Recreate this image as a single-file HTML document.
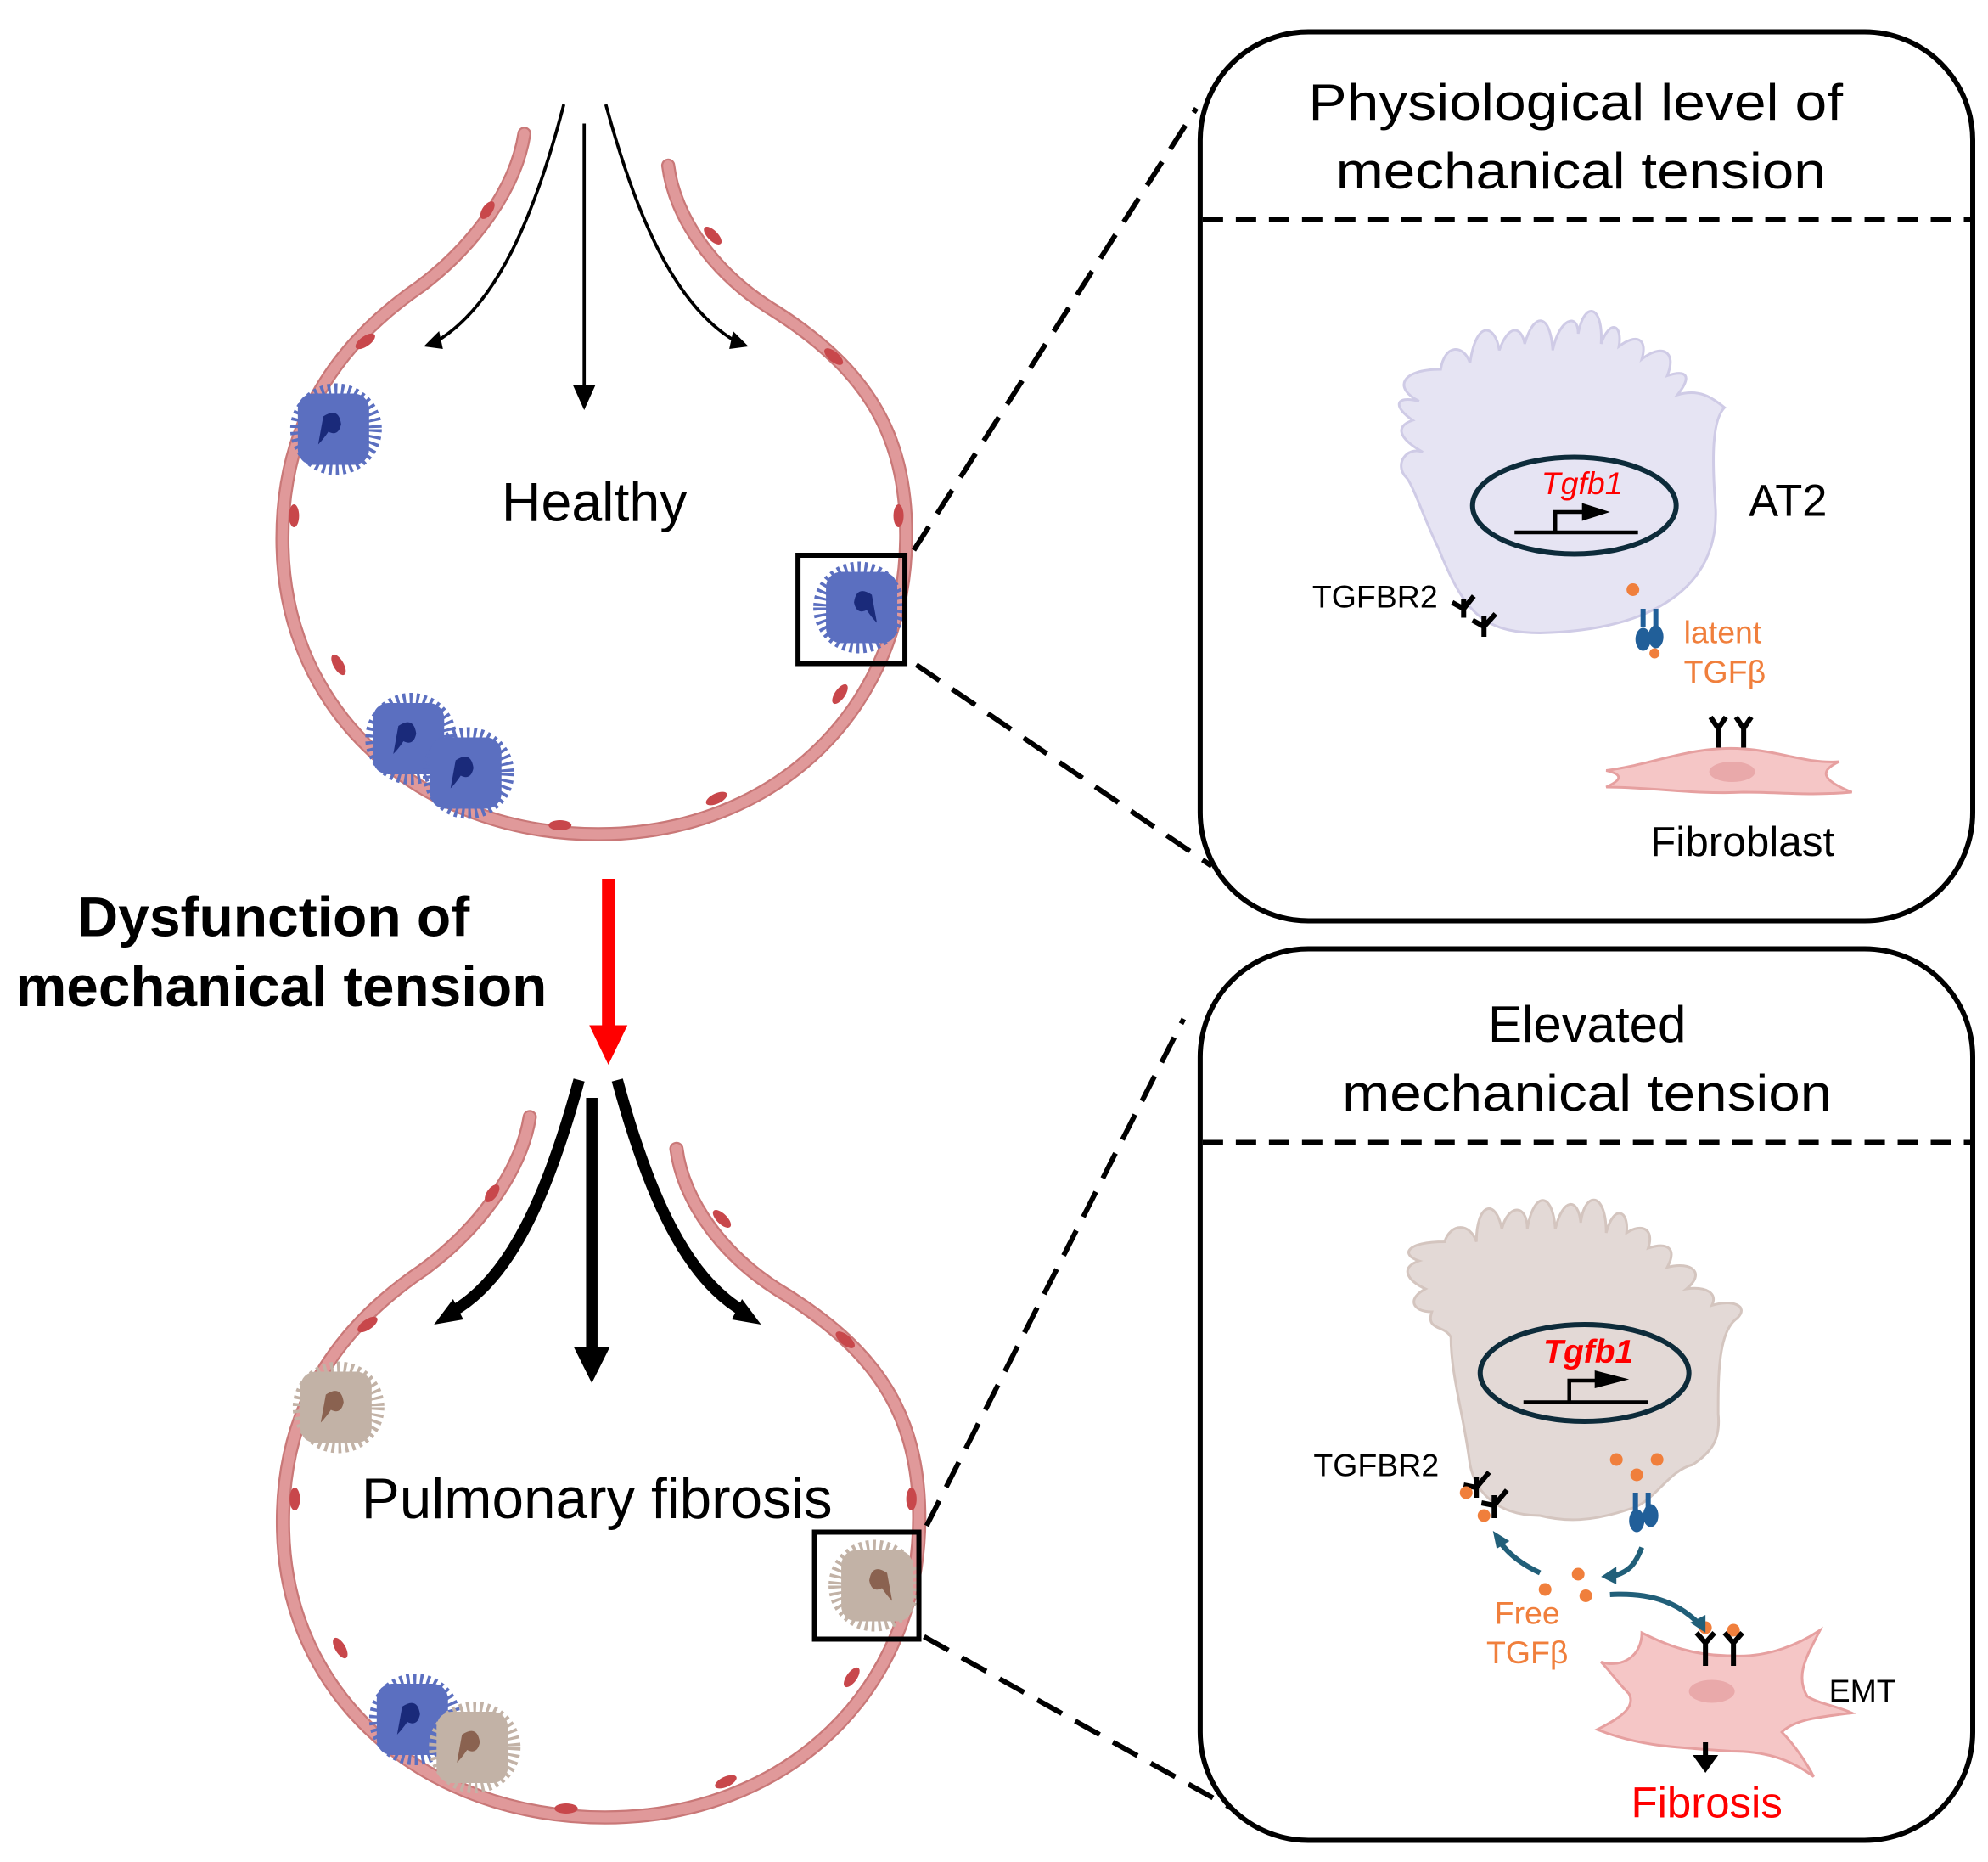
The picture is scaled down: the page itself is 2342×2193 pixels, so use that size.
<!DOCTYPE html>
<html><head><meta charset="utf-8"><style>
html,body{margin:0;padding:0;background:#fff;}
svg{display:block;}
text{font-family:"Liberation Sans",Arial,sans-serif;}
</style></head><body>
<svg width="2342" height="2193" viewBox="0 0 1562 1462" preserveAspectRatio="none" xmlns="http://www.w3.org/2000/svg">
<defs>
  <g id="alv">
    <path d="M412,105 C405,150 370,195 330,225 C250,280 220,350 222,430 C225,560 330,655 470,655 C610,655 712,555 712,420 C712,340 680,290 610,245 C560,215 530,170 525,130" fill="none" stroke="#c97878" stroke-width="11" stroke-linecap="round"/>
    <path d="M412,105 C405,150 370,195 330,225 C250,280 220,350 222,430 C225,560 330,655 470,655 C610,655 712,555 712,420 C712,340 680,290 610,245 C560,215 530,170 525,130" fill="none" stroke="#e0999a" stroke-width="8" stroke-linecap="round"/>
    <g fill="#c8474b">
      <ellipse cx="383" cy="165" rx="4" ry="8" transform="rotate(35 383 165)"/>
      <ellipse cx="287" cy="268" rx="4" ry="9" transform="rotate(55 287 268)"/>
      <ellipse cx="231" cy="405" rx="4" ry="9"/>
      <ellipse cx="266" cy="522" rx="4" ry="9" transform="rotate(-30 266 522)"/>
      <ellipse cx="440" cy="648" rx="9" ry="4"/>
      <ellipse cx="563" cy="627" rx="9" ry="4" transform="rotate(-25 563 627)"/>
      <ellipse cx="660" cy="545" rx="4" ry="9" transform="rotate(35 660 545)"/>
      <ellipse cx="706" cy="405" rx="4" ry="9"/>
      <ellipse cx="655" cy="280" rx="9" ry="4" transform="rotate(40 655 280)"/>
      <ellipse cx="560" cy="185" rx="9" ry="4" transform="rotate(45 560 185)"/>
    </g>
  </g>
  <g id="at2b">
    <circle r="30" fill="none" stroke="#5b6fc0" stroke-width="12" stroke-dasharray="2.2 2.8"/>
    <rect x="-30" y="-28" width="56" height="56" rx="12" fill="#5b6fc0"/>
    <path d="M-10,-10 q12,-8 14,6 q-2,10 -10,6 q-4,6 -8,10 z" fill="#1a2a7a"/>
  </g>
  <g id="at2t">
    <circle r="30" fill="none" stroke="#c2b2a6" stroke-width="12" stroke-dasharray="2.2 2.8"/>
    <rect x="-30" y="-28" width="56" height="56" rx="12" fill="#c2b2a6"/>
    <path d="M-10,-10 q12,-8 14,6 q-2,10 -10,6 q-4,6 -8,10 z" fill="#8a6250"/>
  </g>
</defs>

<use href="#alv"/>
<use href="#at2b" transform="translate(264,337)"/>
<use href="#at2b" transform="translate(675,477) scale(-1,1)"/>
<use href="#at2b" transform="translate(323,580)"/>
<use href="#at2b" transform="translate(368,607)"/>
<rect x="627" y="436" width="84" height="85" fill="none" stroke="#000" stroke-width="4"/>
<text x="467" y="409" font-size="43" text-anchor="middle">Healthy</text>
<g stroke="#000" stroke-width="2.5" fill="none">
  <line x1="459" y1="97" x2="459" y2="305"/>
  <path d="M443,82 C420,170 390,240 343,268"/>
  <path d="M476,82 C500,170 530,240 578,268"/>
</g>
<path d="M450,302 L468,302 L459,322 Z"/>
<path d="M333,272 L345,260 L348,274 Z"/>
<path d="M588,272 L576,260 L573,274 Z"/>

<use href="#alv" transform="translate(-4,772) scale(1.02,1)"/>
<use href="#at2t" transform="translate(266,1105)"/>
<use href="#at2t" transform="translate(687,1245) scale(-1,1)"/>
<use href="#at2b" transform="translate(326,1350)"/>
<use href="#at2t" transform="translate(373,1372)"/>
<rect x="640" y="1203" width="82" height="84" fill="none" stroke="#000" stroke-width="4"/>
<text x="469" y="1192" font-size="45" text-anchor="middle">Pulmonary fibrosis</text>
<g stroke="#000" stroke-width="9" fill="none">
  <line x1="465" y1="862" x2="465" y2="1060"/>
  <path d="M455,848 C430,940 400,1005 355,1030"/>
  <path d="M485,848 C510,940 540,1005 585,1030"/>
</g>
<path d="M451,1058 L479,1058 L465,1086 Z"/>
<path d="M341,1040 L356,1020 L364,1036 Z"/>
<path d="M598,1040 L583,1020 L575,1036 Z"/>

<text x="215" y="735" font-size="44" font-weight="bold" text-anchor="middle">Dysfunction of</text>
<text x="221" y="790" font-size="45" font-weight="bold" text-anchor="middle">mechanical tension</text>
<rect x="473" y="690" width="10" height="118" fill="#ff0000"/>
<path d="M463,805 L493,805 L478,836 Z" fill="#ff0000"/>

<g stroke="#000" stroke-width="4" stroke-dasharray="22 12" fill="none">
  <line x1="718" y1="432" x2="940" y2="85"/>
  <line x1="720" y1="522" x2="952" y2="680"/>
  <line x1="728" y1="1198" x2="930" y2="800"/>
  <line x1="726" y1="1285" x2="968" y2="1420"/>
</g>

<rect x="943" y="25" width="607" height="698" rx="85" fill="none" stroke="#000" stroke-width="4"/>
<line x1="945" y1="172" x2="1548" y2="172" stroke="#000" stroke-width="4" stroke-dasharray="16 10"/>
<text x="1238" y="94" font-size="40" text-anchor="middle" textLength="420" lengthAdjust="spacingAndGlyphs">Physiological level of</text>
<text x="1242" y="148" font-size="40" text-anchor="middle" textLength="385" lengthAdjust="spacingAndGlyphs">mechanical tension</text>
<path d="M1132,290 C1135,270 1150,270 1155,285 C1160,250 1175,255 1178,275 C1185,255 1195,255 1198,270 C1205,245 1218,245 1220,275 C1225,250 1240,245 1240,262 C1245,235 1260,240 1258,270 C1265,250 1275,255 1272,272 C1285,262 1295,265 1290,282 C1305,270 1318,275 1310,295 C1325,290 1330,295 1318,310 C1335,305 1345,312 1355,320 C1345,330 1345,360 1348,400 C1350,460 1300,495 1210,497 C1165,497 1150,480 1130,430 C1120,410 1110,380 1105,375 C1095,365 1105,350 1118,355 C1100,345 1095,335 1110,330 C1095,320 1095,310 1115,315 C1095,305 1100,290 1132,290 Z" fill="#e6e4f3" stroke="#cfcbe6" stroke-width="2"/>
<ellipse cx="1237" cy="397" rx="80" ry="38" fill="none" stroke="#0d2b3a" stroke-width="4"/>
<text x="1243" y="388" font-size="25" font-style="italic" fill="#ff0000" text-anchor="middle">Tgfb1</text>
<g stroke="#000" stroke-width="3" fill="none"><line x1="1190" y1="418" x2="1287" y2="418"/><path d="M1222,418 V402 H1245"/></g>
<path d="M1243,395 L1265,402 L1243,409 Z"/>
<text x="1374" y="405" font-size="35">AT2</text>
<text x="1031" y="477" font-size="25">TGFBR2</text>
<g stroke="#000" stroke-width="4" fill="none">
  <path d="M1150,470 L1150,485 M1150,478 L1141,473 M1150,478 L1158,468"/>
  <path d="M1166,484 L1166,500 M1166,492 L1157,487 M1166,492 L1175,482"/>
</g>
<circle cx="1283" cy="463" r="5" fill="#f07f3c"/>
<g fill="#215f99"><rect x="1289" y="478" width="4" height="14"/><rect x="1299" y="478" width="4" height="14"/><ellipse cx="1291" cy="502" rx="6" ry="9"/><ellipse cx="1301" cy="500" rx="6" ry="9"/></g>
<circle cx="1300" cy="513" r="4" fill="#f07f3c"/>
<text x="1323" y="505" font-size="25" fill="#f07f3c">latent</text>
<text x="1323" y="536" font-size="25" fill="#f07f3c">TGFβ</text>
<path d="M1262,605 C1300,600 1330,585 1370,588 C1400,590 1420,600 1445,598 C1430,605 1430,612 1455,622 C1420,625 1400,622 1370,622 C1330,624 1300,618 1262,618 C1275,612 1275,608 1262,605 Z" fill="#f5c6c6" stroke="#e6a0a0" stroke-width="2"/>
<ellipse cx="1361" cy="606" rx="18" ry="8" fill="#e9a9aa"/>
<g stroke="#000" stroke-width="4" fill="none"><path d="M1350,587 V572 L1344,563 M1350,572 L1356,563"/><path d="M1370,587 V572 L1364,563 M1370,572 L1376,563"/></g>
<text x="1369" y="672" font-size="33" text-anchor="middle">Fibroblast</text>

<rect x="943" y="745" width="607" height="700" rx="85" fill="none" stroke="#000" stroke-width="4"/>
<line x1="945" y1="897" x2="1548" y2="897" stroke="#000" stroke-width="4" stroke-dasharray="16 10"/>
<text x="1247" y="818" font-size="40" text-anchor="middle">Elevated</text>
<text x="1247" y="872" font-size="40" text-anchor="middle" textLength="385" lengthAdjust="spacingAndGlyphs">mechanical tension</text>
<path d="M1135,975 C1140,960 1155,960 1160,975 C1160,945 1175,940 1180,965 C1185,945 1200,945 1200,965 C1205,935 1220,935 1222,965 C1228,940 1240,940 1242,960 C1245,935 1262,935 1262,968 C1268,945 1280,950 1278,968 C1290,960 1300,965 1295,980 C1310,975 1318,980 1310,995 C1330,990 1340,1000 1325,1012 C1340,1010 1350,1015 1345,1025 C1360,1020 1375,1025 1365,1035 C1350,1045 1350,1080 1350,1110 C1352,1130 1345,1140 1330,1150 C1310,1155 1300,1180 1280,1185 C1250,1195 1230,1195 1210,1190 C1180,1190 1160,1175 1155,1150 C1150,1110 1140,1080 1140,1050 C1135,1040 1120,1045 1125,1030 C1110,1030 1105,1020 1120,1012 C1105,1005 1100,995 1115,990 C1100,985 1105,975 1135,975 Z" fill="#e3d9d6" stroke="#d4c5bf" stroke-width="2"/>
<ellipse cx="1245" cy="1078" rx="82" ry="38" fill="none" stroke="#0d2b3a" stroke-width="4"/>
<text x="1248" y="1070" font-size="26" font-style="italic" font-weight="bold" fill="#ff0000" text-anchor="middle">Tgfb1</text>
<g stroke="#000" stroke-width="3" fill="none"><line x1="1197" y1="1101" x2="1295" y2="1101"/><path d="M1233,1101 V1084 H1255"/></g>
<path d="M1253,1076 L1280,1083 L1253,1090 Z"/>
<text x="1032" y="1159" font-size="25">TGFBR2</text>
<g stroke="#000" stroke-width="4" fill="none">
  <path d="M1160,1160 L1160,1176 M1160,1168 L1150,1166 M1160,1168 L1170,1156"/>
  <path d="M1174,1174 L1174,1192 M1174,1182 L1164,1180 M1174,1182 L1184,1170"/>
</g>
<g fill="#f07f3c">
  <circle cx="1152" cy="1172" r="5"/><circle cx="1166" cy="1190" r="5"/>
  <circle cx="1270" cy="1146" r="5"/><circle cx="1302" cy="1146" r="5"/><circle cx="1286" cy="1158" r="5"/>
  <circle cx="1240" cy="1236" r="5"/><circle cx="1214" cy="1248" r="5"/><circle cx="1246" cy="1253" r="5"/>
  <circle cx="1340" cy="1278" r="5"/><circle cx="1362" cy="1280" r="5"/>
</g>
<g fill="#215f99"><rect x="1283" y="1172" width="4" height="14"/><rect x="1293" y="1172" width="4" height="14"/><ellipse cx="1286" cy="1194" rx="6" ry="9"/><ellipse cx="1297" cy="1190" rx="6" ry="9"/></g>
<g stroke="#215f79" stroke-width="4" fill="none">
  <path d="M1210,1235 C1195,1228 1185,1220 1178,1210"/>
  <path d="M1290,1215 C1285,1228 1280,1235 1265,1238"/>
  <path d="M1265,1252 C1300,1250 1320,1260 1335,1275"/>
</g>
<g fill="#215f79">
  <path d="M1173,1202 L1186,1210 L1176,1216 Z"/>
  <path d="M1258,1238 L1270,1230 L1270,1244 Z"/>
  <path d="M1340,1282 L1328,1274 L1340,1268 Z"/>
</g>
<text x="1200" y="1275" font-size="25" fill="#f07f3c" text-anchor="middle">Free</text>
<text x="1200" y="1306" font-size="25" fill="#f07f3c" text-anchor="middle">TGFβ</text>
<path d="M1290,1282 C1310,1292 1330,1300 1360,1300 C1390,1302 1415,1290 1430,1280 C1420,1300 1410,1315 1420,1332 C1430,1338 1445,1340 1455,1345 C1430,1348 1410,1350 1400,1360 C1410,1370 1420,1385 1425,1395 C1405,1380 1385,1375 1360,1375 C1320,1372 1290,1372 1255,1358 C1275,1348 1285,1340 1280,1330 C1270,1320 1265,1312 1258,1305 C1275,1310 1290,1300 1290,1282 Z" fill="#f5c6c6" stroke="#e6a0a0" stroke-width="2"/>
<ellipse cx="1345" cy="1328" rx="18" ry="9" fill="#e9a9aa"/>
<g stroke="#000" stroke-width="4" fill="none"><path d="M1340,1308 V1290 L1333,1282 M1340,1290 L1347,1282"/><path d="M1362,1308 V1290 L1355,1282 M1362,1290 L1369,1282"/></g>
<text x="1437" y="1336" font-size="25">EMT</text>
<rect x="1338" y="1368" width="4" height="12"/>
<path d="M1330,1378 L1350,1378 L1340,1392 Z"/>
<text x="1341" y="1427" font-size="34" fill="#ff0000" text-anchor="middle">Fibrosis</text>
</svg>
</body></html>
